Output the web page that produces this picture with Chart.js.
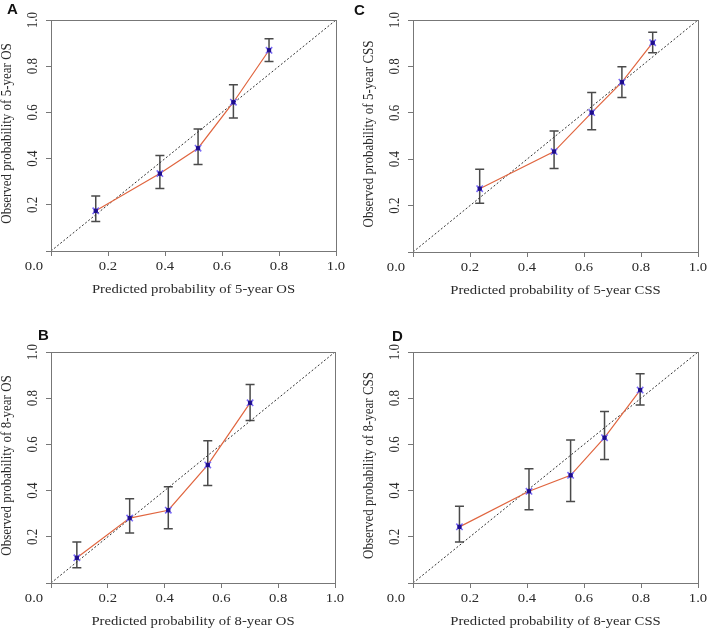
<!DOCTYPE html>
<html>
<head>
<meta charset="utf-8">
<script src="https://cdn.jsdelivr.net/npm/chart.js@4.4.1/dist/chart.umd.min.js"></script>
<style>
body { margin: 0; background: #fff; }
#wrap { position: relative; width: 709px; height: 629px; overflow: hidden; }
.panel { position: absolute; }
.tag { position: absolute; font: bold 15px "Liberation Sans", Arial, sans-serif; color: #111; line-height: 15px; }
</style>
</head>
<body>
<div id="wrap">
  <div class="panel" style="left:0;top:0;width:354px;height:314px"><canvas id="chartA"></canvas></div>
  <div class="panel" style="left:354px;top:0;width:355px;height:314px"><canvas id="chartC"></canvas></div>
  <div class="panel" style="left:0;top:314px;width:354px;height:315px"><canvas id="chartB"></canvas></div>
  <div class="panel" style="left:354px;top:314px;width:355px;height:315px"><canvas id="chartD"></canvas></div>
  <div class="tag" style="left:7px;top:1px">A</div>
  <div class="tag" style="left:354px;top:2px">C</div>
  <div class="tag" style="left:38px;top:327px">B</div>
  <div class="tag" style="left:392px;top:328px">D</div>
</div>
<script>
// 刻度标签
const xTickLabels = ['0.0', '0.2', '0.4', '0.6', '0.8', '1.0'];
const yTickLabels = ['', '0.2', '0.4', '0.6', '0.8', '1.0'];

// 参考线 (理想校准)
const diagonal = [{ x: 0, y: 0 }, { x: 1, y: 1 }];

// A: 5-year OS
const predA = [0.157, 0.382, 0.516, 0.640, 0.765];
const obsA  = [0.174, 0.335, 0.445, 0.644, 0.869];
const lowA  = [0.128, 0.271, 0.375, 0.576, 0.820];
const upA   = [0.238, 0.413, 0.528, 0.720, 0.919];

// C: 5-year CSS
const predC = [0.234, 0.495, 0.627, 0.733, 0.841];
const obsC  = [0.273, 0.433, 0.601, 0.732, 0.902];
const lowC  = [0.210, 0.360, 0.527, 0.666, 0.859];
const upC   = [0.357, 0.522, 0.688, 0.799, 0.947];

// B: 8-year OS
const predB = [0.091, 0.277, 0.413, 0.552, 0.701];
const obsB  = [0.109, 0.281, 0.315, 0.511, 0.780];
const lowB  = [0.066, 0.216, 0.235, 0.422, 0.704];
const upB   = [0.177, 0.365, 0.417, 0.616, 0.859];

// D: 8-year CSS
const predD = [0.163, 0.407, 0.553, 0.672, 0.797];
const obsD  = [0.243, 0.397, 0.466, 0.629, 0.835];
const lowD  = [0.177, 0.317, 0.353, 0.535, 0.771];
const upD   = [0.332, 0.495, 0.619, 0.742, 0.906];

const SERIF = '"Liberation Serif", "Times New Roman", serif';
const AXIS_COLOR = '#777';
const TEXT_COLOR = '#2a2a2a';
const STRETCH = 1.13; // 原图文字横向略宽

function toPoints(xs, ys) {
    return xs.map((x, i) => ({ x: x, y: ys[i] }));
}

// 横向拉伸的文字
function wideText(ctx, text, x, y) {
    ctx.save();
    ctx.translate(x, y);
    ctx.scale(STRETCH, 1);
    ctx.fillText(text, 0, 0);
    ctx.restore();
}

// 误差线、外框、坐标轴文字
const calibPlugin = {
    id: 'calib',
    beforeDatasetsDraw(chart, args, opts) {
        const ctx = chart.ctx;
        const xs = chart.scales.x, ys = chart.scales.y;
        ctx.save();
        ctx.strokeStyle = '#4a4a4a';
        ctx.lineWidth = 1.5;
        opts.pred.forEach((p, i) => {
            const x = xs.getPixelForValue(p);
            const y1 = ys.getPixelForValue(opts.low[i]);
            const y2 = ys.getPixelForValue(opts.up[i]);
            ctx.beginPath();
            ctx.moveTo(x, y1); ctx.lineTo(x, y2);
            ctx.moveTo(x - 4.5, y1); ctx.lineTo(x + 4.5, y1);
            ctx.moveTo(x - 4.5, y2); ctx.lineTo(x + 4.5, y2);
            ctx.stroke();
        });
        ctx.restore();
    },
    afterDraw(chart, args, opts) {
        const ctx = chart.ctx;
        const a = chart.chartArea;
        const xs = chart.scales.x, ys = chart.scales.y;
        ctx.save();
        ctx.strokeStyle = AXIS_COLOR;
        ctx.lineWidth = 1;
        ctx.strokeRect(Math.round(a.left) + 0.5, Math.round(a.top) + 0.5,
            Math.round(a.right - a.left), Math.round(a.bottom - a.top));

        ctx.fillStyle = TEXT_COLOR;
        ctx.font = '13px ' + SERIF;
        ctx.textAlign = 'center';
        ctx.textBaseline = 'middle';
        // x 轴刻度标签 (0.0 左移)
        xs.ticks.forEach((t, i) => {
            const px = xs.getPixelForValue(t.value) - (i === 0 ? 17 : 0);
            wideText(ctx, xTickLabels[i], px, a.bottom + 16);
        });
        // x 轴标题
        wideText(ctx, opts.xTitle, (a.left + a.right) / 2, a.bottom + 39);
        // y 轴刻度标签 (旋转)
        ys.ticks.forEach((t, i) => {
            const lab = yTickLabels[i];
            if (!lab) return;
            ctx.save();
            ctx.translate(a.left - 18, ys.getPixelForValue(t.value));
            ctx.rotate(-Math.PI / 2);
            ctx.scale(1, STRETCH);
            ctx.fillText(lab, 0, 0);
            ctx.restore();
        });
        // y 轴标题
        ctx.save();
        ctx.translate(a.left - 44, (a.top + a.bottom) / 2 - 2);
        ctx.rotate(-Math.PI / 2);
        ctx.scale(1, STRETCH);
        ctx.fillText(opts.yTitle, 0, 0);
        ctx.restore();
        ctx.restore();
    }
};

function makePanel(id, cfg) {
    const el = document.getElementById(id);
    new Chart(el.getContext('2d'), {
        type: 'scatter',
        data: {
            datasets: [{
                data: toPoints(cfg.pred, cfg.obs),
                pointStyle: 'rect',
                pointRadius: 2.3,
                backgroundColor: '#1d0d8f',
                borderColor: '#1d0d8f',
                borderWidth: 1,
                showLine: false
            }, {
                data: toPoints(cfg.pred, cfg.obs),
                pointStyle: 'crossRot',
                pointRadius: 4.5,
                borderColor: '#7a6af5',
                borderWidth: 1.6,
                showLine: false
            }, {
                data: toPoints(cfg.pred, cfg.obs),
                showLine: true,
                pointRadius: 0,
                borderColor: '#e0653f',
                borderWidth: 1.2
            }, {
                data: diagonal,
                showLine: true,
                pointRadius: 0,
                borderColor: '#333',
                borderWidth: 1,
                borderDash: [2, 2]
            }]
        },
        options: {
            responsive: true,
            maintainAspectRatio: false,
            animation: false,
            layout: { padding: { top: cfg.padTop, right: cfg.padRight, left: 0, bottom: 0 } },
            scales: {
                x: {
                    type: 'linear',
                    min: 0, max: 1,
                    afterFit: s => { s.height = cfg.bottomH; },
                    ticks: {
                        stepSize: 0.2,
                        autoSkip: false,
                        callback: () => ''
                    },
                    grid: { drawOnChartArea: false, drawTicks: true, tickLength: 5, color: AXIS_COLOR },
                    border: { display: true, color: AXIS_COLOR }
                },
                y: {
                    type: 'linear',
                    min: 0, max: 1,
                    afterFit: s => { s.width = cfg.leftW; },
                    ticks: {
                        stepSize: 0.2,
                        autoSkip: false,
                        callback: () => ''
                    },
                    grid: { drawOnChartArea: false, drawTicks: true, tickLength: 5, color: AXIS_COLOR },
                    border: { display: true, color: AXIS_COLOR }
                }
            },
            plugins: {
                legend: { display: false },
                tooltip: { enabled: false },
                calib: { pred: cfg.pred, low: cfg.low, up: cfg.up, xTitle: cfg.xTitle, yTitle: cfg.yTitle }
            }
        },
        plugins: [calibPlugin]
    });
}

makePanel('chartA', {
    pred: predA, obs: obsA, low: lowA, up: upA,
    xTitle: 'Predicted probability of 5-year OS', yTitle: 'Observed probability of 5-year OS',
    padTop: 20, padRight: 18, leftW: 51, bottomH: 63
});
makePanel('chartC', {
    pred: predC, obs: obsC, low: lowC, up: upC,
    xTitle: 'Predicted probability of 5-year CSS', yTitle: 'Observed probability of 5-year CSS',
    padTop: 20, padRight: 11, leftW: 59, bottomH: 62
});
makePanel('chartB', {
    pred: predB, obs: obsB, low: lowB, up: upB,
    xTitle: 'Predicted probability of 8-year OS', yTitle: 'Observed probability of 8-year OS',
    padTop: 38, padRight: 19, leftW: 51, bottomH: 46
});
makePanel('chartD', {
    pred: predD, obs: obsD, low: lowD, up: upD,
    xTitle: 'Predicted probability of 8-year CSS', yTitle: 'Observed probability of 8-year CSS',
    padTop: 38, padRight: 11, leftW: 59, bottomH: 46
});
</script>
</body>
</html>
